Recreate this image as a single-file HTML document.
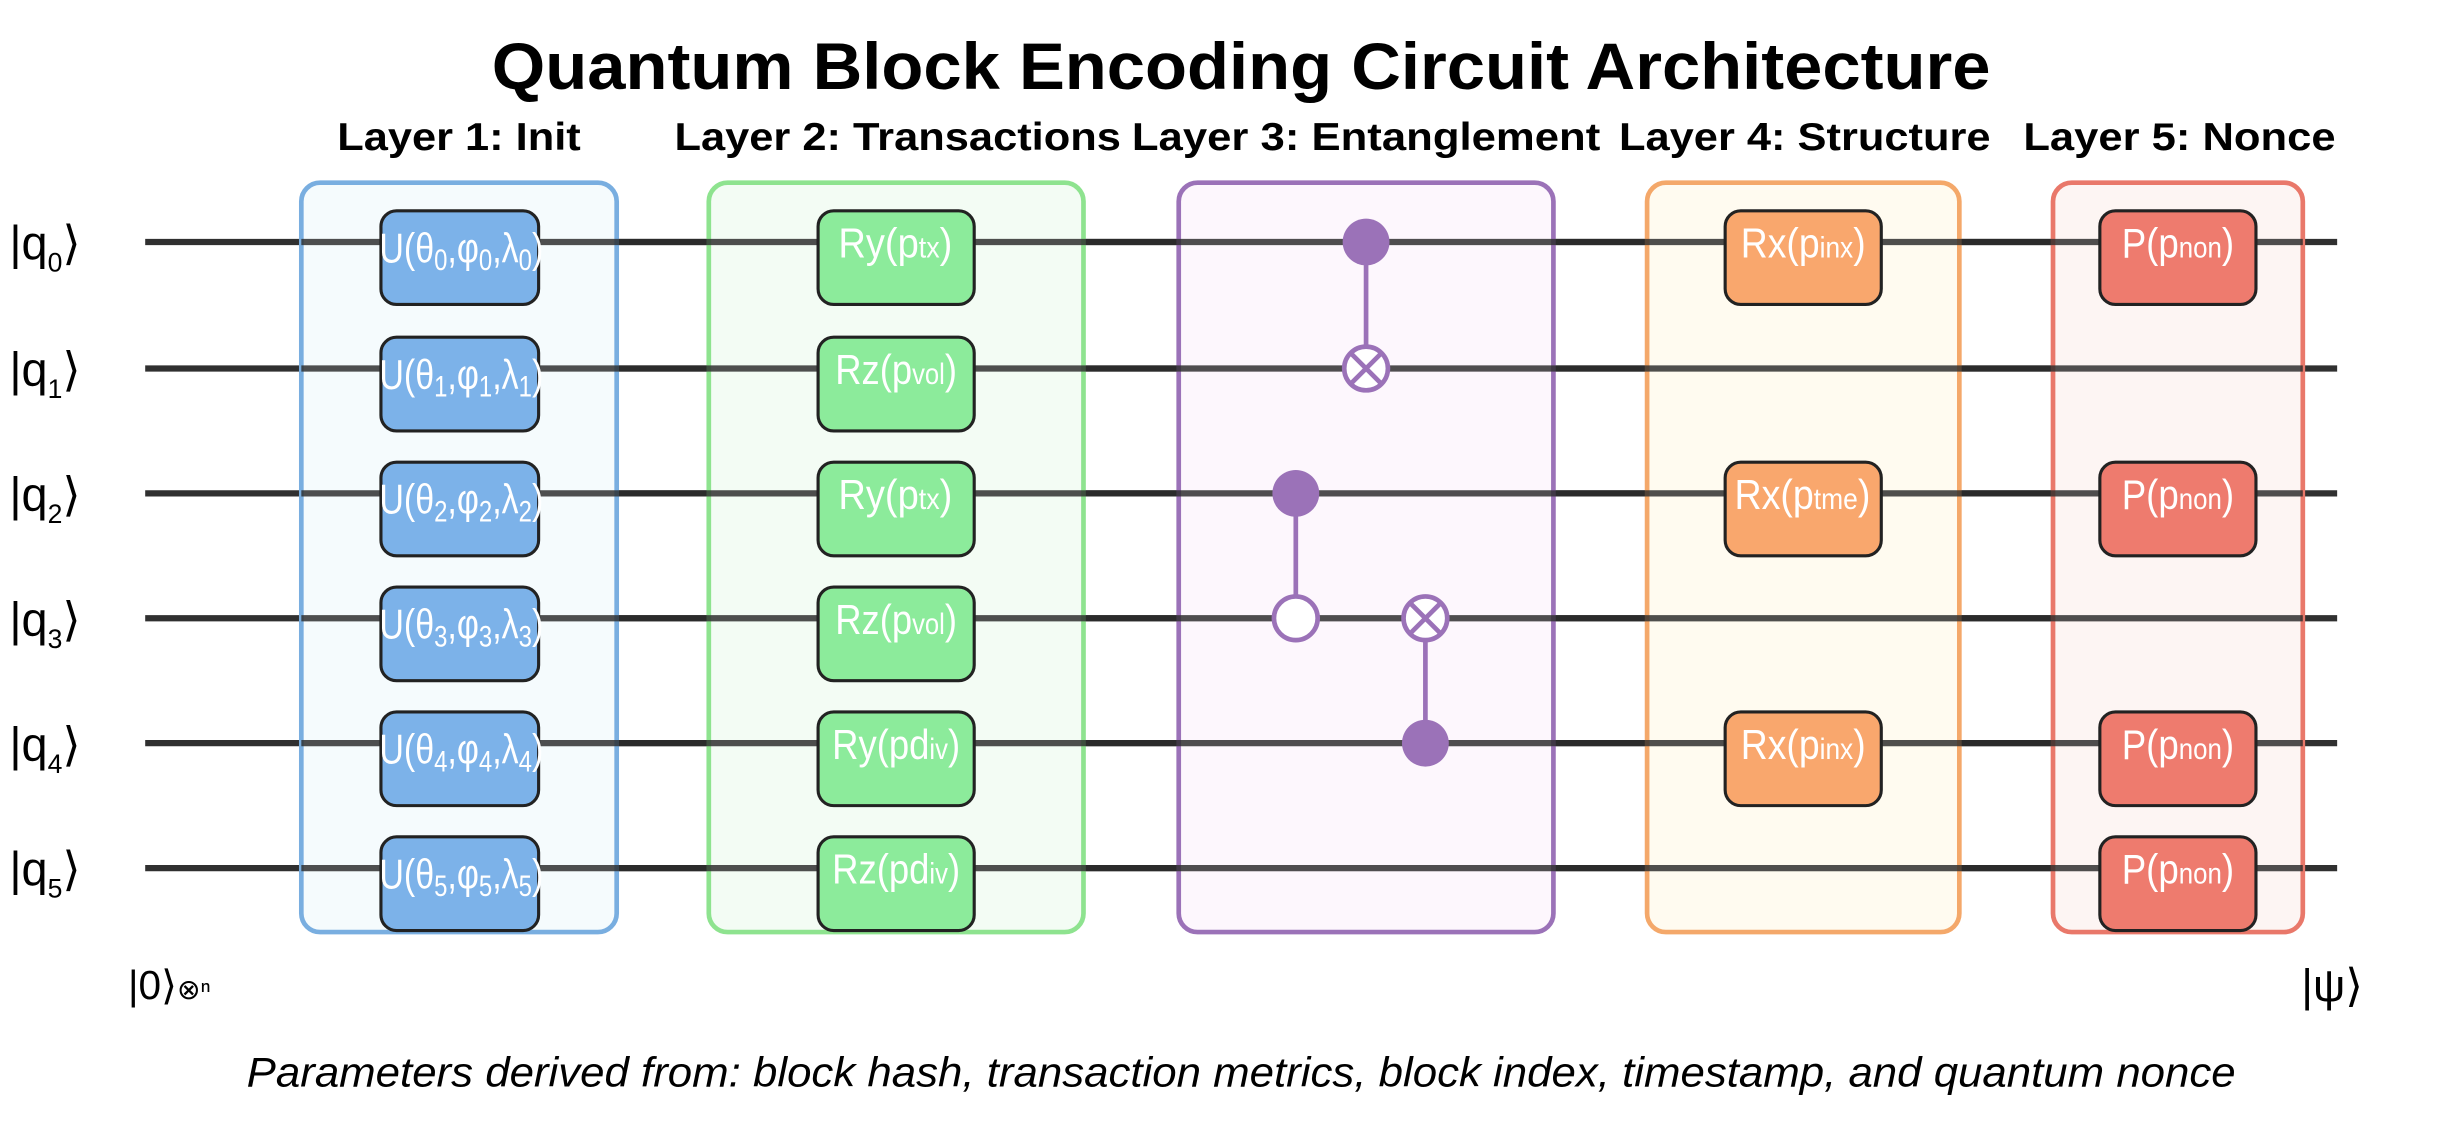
<!DOCTYPE html>
<html><head><meta charset="utf-8"><style>
html,body{margin:0;padding:0;background:#fff;}
svg{display:block;}
text{font-family:"Liberation Sans","DejaVu Sans",sans-serif;}
.g{fill:#fff;font-size:27px;}
.s{font-size:19px;}
.ql{font-size:30px;fill:#000;}
</style></head><body>
<svg width="2448" height="1126" viewBox="0 0 1568 721.2" preserveAspectRatio="none" xmlns="http://www.w3.org/2000/svg">
<rect width="1568" height="722" fill="#fff"/>
<text x="315" y="57" font-size="42" font-weight="bold" textLength="960" lengthAdjust="spacingAndGlyphs">Quantum Block Encoding Circuit Architecture</text>
<g font-size="25" font-weight="bold">
<text x="216" y="96" textLength="156" lengthAdjust="spacingAndGlyphs">Layer 1: Init</text>
<text x="432" y="96" textLength="286" lengthAdjust="spacingAndGlyphs">Layer 2: Transactions</text>
<text x="725" y="96" textLength="300" lengthAdjust="spacingAndGlyphs">Layer 3: Entanglement</text>
<text x="1037" y="96" textLength="238" lengthAdjust="spacingAndGlyphs">Layer 4: Structure</text>
<text x="1296" y="96" textLength="200" lengthAdjust="spacingAndGlyphs">Layer 5: Nonce</text>
</g>
<g stroke="#1a1a1a" stroke-width="4" opacity="0.9">
<line x1="93" y1="155" x2="1497" y2="155"/>
<line x1="93" y1="236" x2="1497" y2="236"/>
<line x1="93" y1="316" x2="1497" y2="316"/>
<line x1="93" y1="396" x2="1497" y2="396"/>
<line x1="93" y1="476" x2="1497" y2="476"/>
<line x1="93" y1="556" x2="1497" y2="556"/>
</g>
<g fill-opacity="0.88">
<rect x="193" y="117" width="202" height="480" rx="12" fill="#f4fafd" stroke="#79aee0" stroke-width="3"/>
<rect x="454" y="117" width="240" height="480" rx="12" fill="#f1fcf3" stroke="#8ee38f" stroke-width="3"/>
<rect x="755" y="117" width="240" height="480" rx="12" fill="#fdf6fd" stroke="#9b72b8" stroke-width="3"/>
<rect x="1055" y="117" width="200" height="480" rx="12" fill="#fffbee" stroke="#f4a86a" stroke-width="3"/>
<rect x="1315" y="117" width="160" height="480" rx="12" fill="#fdf4f1" stroke="#e9786a" stroke-width="3"/>
</g>
<g stroke="#2a2a2a" stroke-width="4" opacity="0.8">
<line x1="193" y1="155" x2="1475" y2="155"/>
<line x1="193" y1="236" x2="1475" y2="236"/>
<line x1="193" y1="316" x2="1475" y2="316"/>
<line x1="193" y1="396" x2="1475" y2="396"/>
<line x1="193" y1="476" x2="1475" y2="476"/>
<line x1="193" y1="556" x2="1475" y2="556"/>
</g>
<g class="ql">
<text x="6" y="166">|q<tspan font-size="17" dy="8">0</tspan><tspan dy="-8">⟩</tspan></text>
<text x="6" y="247">|q<tspan font-size="17" dy="8">1</tspan><tspan dy="-8">⟩</tspan></text>
<text x="6" y="327">|q<tspan font-size="17" dy="8">2</tspan><tspan dy="-8">⟩</tspan></text>
<text x="6" y="407">|q<tspan font-size="17" dy="8">3</tspan><tspan dy="-8">⟩</tspan></text>
<text x="6" y="487">|q<tspan font-size="17" dy="8">4</tspan><tspan dy="-8">⟩</tspan></text>
<text x="6" y="567">|q<tspan font-size="17" dy="8">5</tspan><tspan dy="-8">⟩</tspan></text>
</g>
<g fill="#7cb2e9" stroke="#222" stroke-width="2">
<rect x="244" y="135" width="101" height="60" rx="10"/>
<rect x="244" y="216" width="101" height="60" rx="10"/>
<rect x="244" y="296" width="101" height="60" rx="10"/>
<rect x="244" y="376" width="101" height="60" rx="10"/>
<rect x="244" y="456" width="101" height="60" rx="10"/>
<rect x="244" y="536" width="101" height="60" rx="10"/>
</g>
<g class="g" font-size="30">
<text x="243" y="168" textLength="105" lengthAdjust="spacingAndGlyphs">U(θ<tspan class="s" dy="5">0</tspan><tspan dy="-5">,φ</tspan><tspan class="s" dy="5">0</tspan><tspan dy="-5">,λ</tspan><tspan class="s" dy="5">0</tspan><tspan dy="-5">)</tspan></text>
<text x="243" y="249" textLength="105" lengthAdjust="spacingAndGlyphs">U(θ<tspan class="s" dy="5">1</tspan><tspan dy="-5">,φ</tspan><tspan class="s" dy="5">1</tspan><tspan dy="-5">,λ</tspan><tspan class="s" dy="5">1</tspan><tspan dy="-5">)</tspan></text>
<text x="243" y="329" textLength="105" lengthAdjust="spacingAndGlyphs">U(θ<tspan class="s" dy="5">2</tspan><tspan dy="-5">,φ</tspan><tspan class="s" dy="5">2</tspan><tspan dy="-5">,λ</tspan><tspan class="s" dy="5">2</tspan><tspan dy="-5">)</tspan></text>
<text x="243" y="409" textLength="105" lengthAdjust="spacingAndGlyphs">U(θ<tspan class="s" dy="5">3</tspan><tspan dy="-5">,φ</tspan><tspan class="s" dy="5">3</tspan><tspan dy="-5">,λ</tspan><tspan class="s" dy="5">3</tspan><tspan dy="-5">)</tspan></text>
<text x="243" y="489" textLength="105" lengthAdjust="spacingAndGlyphs">U(θ<tspan class="s" dy="5">4</tspan><tspan dy="-5">,φ</tspan><tspan class="s" dy="5">4</tspan><tspan dy="-5">,λ</tspan><tspan class="s" dy="5">4</tspan><tspan dy="-5">)</tspan></text>
<text x="243" y="569" textLength="105" lengthAdjust="spacingAndGlyphs">U(θ<tspan class="s" dy="5">5</tspan><tspan dy="-5">,φ</tspan><tspan class="s" dy="5">5</tspan><tspan dy="-5">,λ</tspan><tspan class="s" dy="5">5</tspan><tspan dy="-5">)</tspan></text>
</g>
<g fill="#8ceb9b" stroke="#222" stroke-width="2">
<rect x="524" y="135" width="100" height="60" rx="10"/>
<rect x="524" y="216" width="100" height="60" rx="10"/>
<rect x="524" y="296" width="100" height="60" rx="10"/>
<rect x="524" y="376" width="100" height="60" rx="10"/>
<rect x="524" y="456" width="100" height="60" rx="10"/>
<rect x="524" y="536" width="100" height="60" rx="10"/>
</g>
<g class="g">
<text x="537" y="165" textLength="73" lengthAdjust="spacingAndGlyphs">Ry(p<tspan class="s">tx</tspan>)</text>
<text x="535" y="246" textLength="78" lengthAdjust="spacingAndGlyphs">Rz(p<tspan class="s">vol</tspan>)</text>
<text x="537" y="326" textLength="73" lengthAdjust="spacingAndGlyphs">Ry(p<tspan class="s">tx</tspan>)</text>
<text x="535" y="406" textLength="78" lengthAdjust="spacingAndGlyphs">Rz(p<tspan class="s">vol</tspan>)</text>
<text x="533" y="486" textLength="82" lengthAdjust="spacingAndGlyphs">Ry(pd<tspan class="s">iv</tspan>)</text>
<text x="533" y="566" textLength="82" lengthAdjust="spacingAndGlyphs">Rz(pd<tspan class="s">iv</tspan>)</text>
</g>
<g stroke="#9b72b8" stroke-width="3" fill="#9b72b8">
<line x1="875" y1="155" x2="875" y2="222"/>
<circle cx="875" cy="155" r="15" stroke="none"/>
<circle cx="875" cy="236" r="14" fill="#fff"/>
<line x1="865" y1="226" x2="885" y2="246"/><line x1="885" y1="226" x2="865" y2="246"/>
<line x1="830" y1="316" x2="830" y2="382"/>
<circle cx="830" cy="316" r="15" stroke="none"/>
<circle cx="830" cy="396" r="14" fill="#fff"/>
<line x1="913" y1="396" x2="913" y2="476"/>
<circle cx="913" cy="476" r="15" stroke="none"/>
<circle cx="913" cy="396" r="14" fill="#fff"/>
<line x1="903" y1="386" x2="923" y2="406"/><line x1="923" y1="386" x2="903" y2="406"/>
</g>
<g fill="#f9a76d" stroke="#222" stroke-width="2">
<rect x="1105" y="135" width="100" height="60" rx="10"/>
<rect x="1105" y="296" width="100" height="60" rx="10"/>
<rect x="1105" y="456" width="100" height="60" rx="10"/>
</g>
<g class="g">
<text x="1115" y="165" textLength="80" lengthAdjust="spacingAndGlyphs">Rx(p<tspan class="s">inx</tspan>)</text>
<text x="1111" y="326" textLength="87" lengthAdjust="spacingAndGlyphs">Rx(p<tspan class="s">tme</tspan>)</text>
<text x="1115" y="486" textLength="80" lengthAdjust="spacingAndGlyphs">Rx(p<tspan class="s">inx</tspan>)</text>
</g>
<g fill="#ee7b6e" stroke="#222" stroke-width="2">
<rect x="1345" y="135" width="100" height="60" rx="10"/>
<rect x="1345" y="296" width="100" height="60" rx="10"/>
<rect x="1345" y="456" width="100" height="60" rx="10"/>
<rect x="1345" y="536" width="100" height="60" rx="10"/>
</g>
<g class="g">
<text x="1359" y="165" textLength="72" lengthAdjust="spacingAndGlyphs">P(p<tspan class="s">non</tspan>)</text>
<text x="1359" y="326" textLength="72" lengthAdjust="spacingAndGlyphs">P(p<tspan class="s">non</tspan>)</text>
<text x="1359" y="486" textLength="72" lengthAdjust="spacingAndGlyphs">P(p<tspan class="s">non</tspan>)</text>
<text x="1359" y="566" textLength="72" lengthAdjust="spacingAndGlyphs">P(p<tspan class="s">non</tspan>)</text>
</g>
<text x="82" y="640" font-size="26">|0⟩<tspan font-size="18">⊗ⁿ</tspan></text>
<text x="1474" y="641" font-size="29">|ψ⟩</text>
<text x="158" y="696" font-size="27" font-style="italic" textLength="1274" lengthAdjust="spacingAndGlyphs">Parameters derived from: block hash, transaction metrics, block index, timestamp, and quantum nonce</text>
</svg>
</body></html>
